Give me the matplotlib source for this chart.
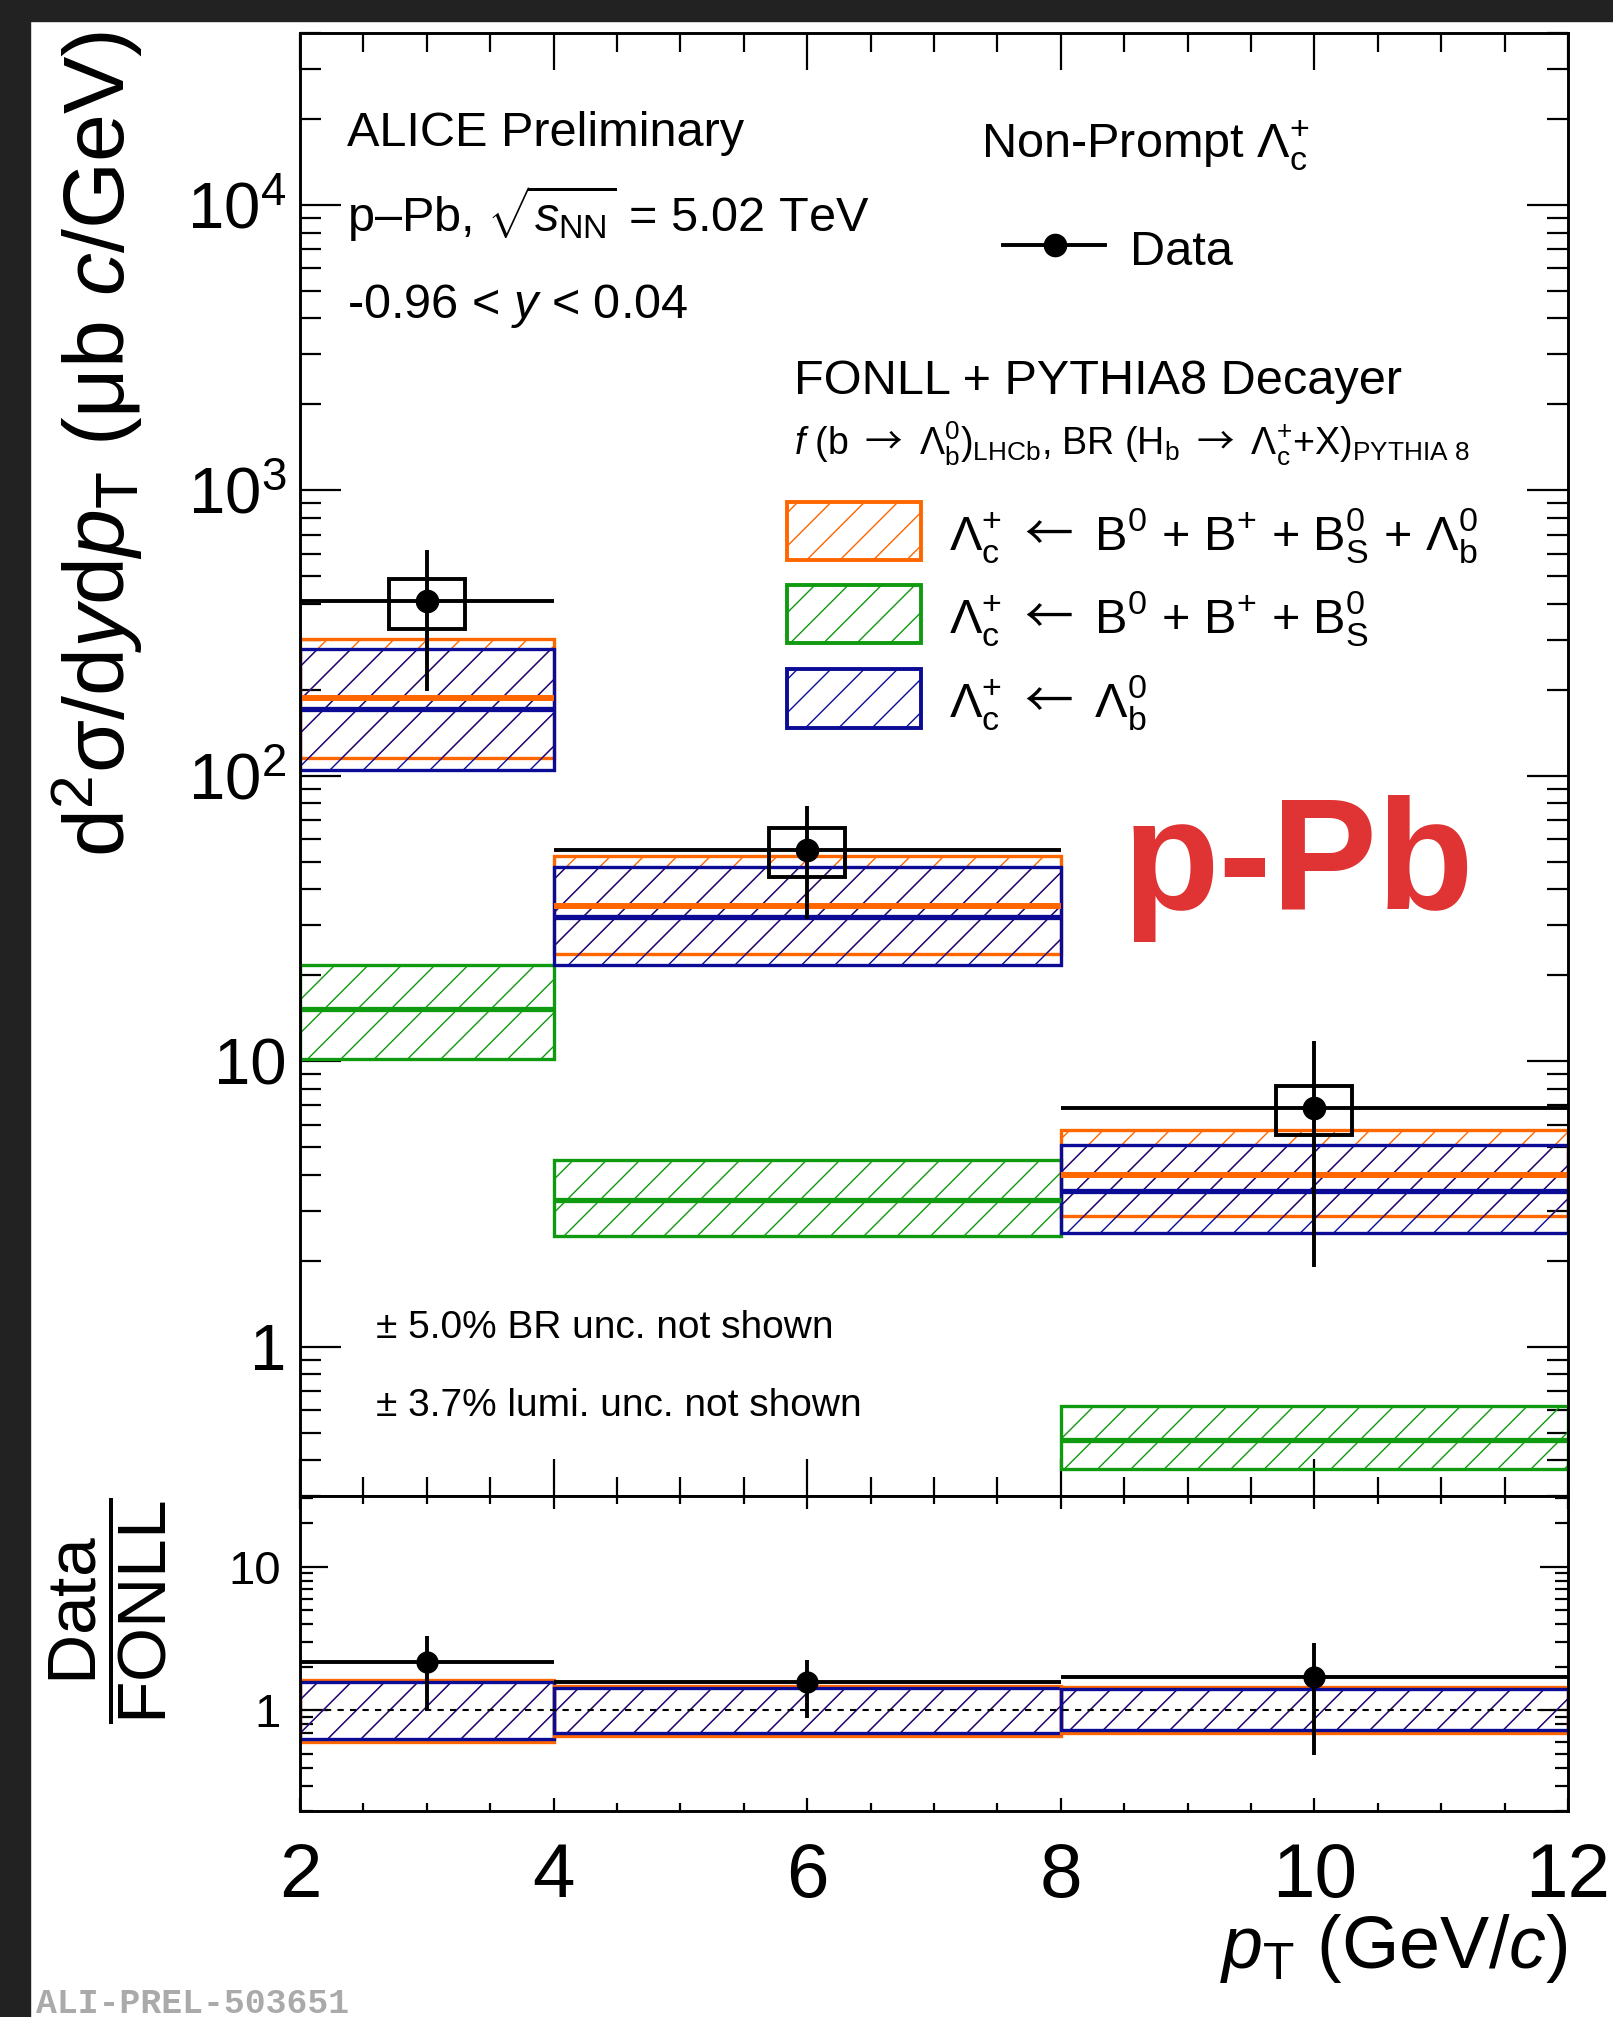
# -*- coding: utf-8 -*-

import numpy as np
import matplotlib.pyplot as plt
from matplotlib.patches import Rectangle
from matplotlib.lines import Line2D
from matplotlib.ticker import MultipleLocator, LogLocator, NullFormatter

# ---- data ----
pt_edges = [2, 4, 8, 12]
pt_centres = [3, 6, 10]

# measured cross section (ub c/GeV)
sigma_data = [408, 55.1, 6.85]
sigma_stat = [210, 23.5, 4.95]
sigma_syst = [81, 10.8, 1.33]

# FONLL + PYTHIA8, all b hadrons
fonll_all_c = [187, 35.1, 3.99]
fonll_all_lo = [115, 23.8, 2.86]
fonll_all_hi = [301, 52.5, 5.76]
# B0 + B+ + Bs0
fonll_b_c = [15.3, 3.26, 0.471]
fonll_b_lo = [10.2, 2.44, 0.372]
fonll_b_hi = [21.8, 4.5, 0.62]
# Lambda_b0
fonll_lb_c = [172, 31.9, 3.52]
fonll_lb_lo = [105, 21.8, 2.50]
fonll_lb_hi = [278, 48.1, 5.10]

# Data / FONLL
ratio_data = [2.17, 1.57, 1.71]
ratio_stat = [1.14, 0.68, 1.22]
ratio_all_lo = [0.606, 0.66, 0.70]
ratio_all_hi = [1.64, 1.48, 1.46]
ratio_lb_lo = [0.635, 0.70, 0.73]
ratio_lb_hi = [1.59, 1.44, 1.41]

C_ALL = "#ff6600"
C_B = "#109a10"
C_LB = "#0b0b96"
C_RED = "#e03333"

W, H = 1613, 2017

LARR = r"$\mathsf{\leftarrow}$"
RARR = r"$\mathsf{\rightarrow}$"


def fx(px):
    return px / W


def fy(py):
    return 1 - py / H


def draw_band(ax, x0, x1, lo, hi, colour, centre=None, lw_c=3.8):
    ax.add_patch(Rectangle((x0, lo), x1 - x0, hi - lo, fill=False,
                           edgecolor=colour, lw=2.4, hatch="/", zorder=2))
    if centre is not None:
        ax.plot([x0, x1], [centre, centre], color=colour, lw=lw_c,
                solid_capstyle="butt", zorder=2.5)


def style_axis(ax, xmaj, xmin, ymaj, ymin):
    ax.tick_params(which="both", direction="in", top=True, right=True,
                   width=1.6)
    ax.tick_params(axis="x", which="major", length=xmaj)
    ax.tick_params(axis="x", which="minor", length=xmin)
    ax.tick_params(axis="y", which="major", length=ymaj)
    ax.tick_params(axis="y", which="minor", length=ymin)
    for s in ax.spines.values():
        s.set_linewidth(2.1)


def main():
    plt.rcParams["font.family"] = ["Liberation Sans", "DejaVu Sans"]
    plt.rcParams["mathtext.fontset"] = "custom"
    plt.rcParams["mathtext.rm"] = "Liberation Sans"
    plt.rcParams["mathtext.it"] = "Liberation Sans:italic"
    plt.rcParams["mathtext.bf"] = "Liberation Sans:bold"
    # long arrows as in the ROOT Symbol font
    plt.rcParams["mathtext.sf"] = "Noto Sans CJK JP"
    plt.rcParams["hatch.linewidth"] = 1.0

    fig = plt.figure(figsize=(W / 100, H / 100), dpi=100)

    # dark frame of the screenshot
    fig.add_artist(Rectangle((0, fy(21)), 1, 21 / H, transform=fig.transFigure,
                             color="#222222", zorder=0))
    fig.add_artist(Rectangle((0, 0), 30 / W, 1, transform=fig.transFigure,
                             color="#222222", zorder=0))

    left, right = 300, 1568
    ax = fig.add_axes([fx(left), fy(1496), fx(right) - fx(left), fy(33) - fy(1496)])
    rax = fig.add_axes([fx(left), fy(1811), fx(right) - fx(left), fy(1496) - fy(1811)])

    edges = np.array(pt_edges, dtype=float)
    xerr = np.diff(edges) / 2

    # ---- main panel ----
    ax.set_yscale("log")
    ax.set_xlim(2, 12)
    ax.set_ylim(0.3, 4e4)

    for i in range(3):
        x0, x1 = edges[i], edges[i + 1]
        draw_band(ax, x0, x1, fonll_all_lo[i], fonll_all_hi[i], C_ALL, fonll_all_c[i], 4.3)
        draw_band(ax, x0, x1, fonll_lb_lo[i], fonll_lb_hi[i], C_LB, fonll_lb_c[i])
        draw_band(ax, x0, x1, fonll_b_lo[i], fonll_b_hi[i], C_B, fonll_b_c[i])
        ax.add_patch(Rectangle((pt_centres[i] - 0.3, sigma_data[i] - sigma_syst[i]),
                               0.6, 2 * sigma_syst[i], fill=False, edgecolor="k",
                               lw=2.8, zorder=4))

    ax.errorbar(pt_centres, sigma_data, yerr=sigma_stat, xerr=xerr, fmt="o",
                color="k", ms=16, elinewidth=2.8, capsize=0, zorder=5)

    ax.set_xticks([2, 4, 6, 8, 10, 12])
    ax.xaxis.set_minor_locator(MultipleLocator(0.5))
    ax.tick_params(labelbottom=False)
    ax.set_yticks([1, 10, 100, 1000, 10000])
    ax.set_yticklabels(["1", "10", r"$10^{2}$", r"$10^{3}$", r"$10^{4}$"], fontsize=47)
    ax.yaxis.set_minor_locator(LogLocator(base=10, subs=np.arange(2, 10)))
    ax.yaxis.set_minor_formatter(NullFormatter())
    style_axis(ax, 26.6, 13.7, 29.5, 15)
    ax.tick_params(axis="y", pad=10)

    # ---- ratio panel ----
    rax.set_yscale("log")
    rax.set_xlim(2, 12)
    rax.set_ylim(0.2, 31)
    for i in range(3):
        x0, x1 = edges[i], edges[i + 1]
        draw_band(rax, x0, x1, ratio_all_lo[i], ratio_all_hi[i], C_ALL)
        draw_band(rax, x0, x1, ratio_lb_lo[i], ratio_lb_hi[i], C_LB)
    rax.axhline(1, color="k", ls=(0, (3, 3)), lw=1.5, zorder=3)
    rax.errorbar(pt_centres, ratio_data, yerr=ratio_stat, xerr=xerr, fmt="o",
                 color="k", ms=15, elinewidth=2.8, capsize=0, zorder=5)

    rax.set_xticks([2, 4, 6, 8, 10, 12])
    rax.set_xticklabels(["2", "4", "6", "8", "10", "12"], fontsize=55)
    rax.xaxis.set_minor_locator(MultipleLocator(0.5))
    rax.set_yticks([1, 10])
    rax.set_yticklabels(["1", "10"], fontsize=34)
    rax.yaxis.set_minor_locator(LogLocator(base=10, subs=np.arange(2, 10)))
    rax.yaxis.set_minor_formatter(NullFormatter())
    style_axis(rax, 9.4, 5.8, 20, 9.4)
    rax.tick_params(axis="x", pad=22)
    rax.tick_params(axis="y", pad=14)

    # ---- axis titles ----
    fig.text(fx(97), fy(444), r"d$^{2}$σ/d$y$d$p_{\mathrm{T}}$ (μb $c$/GeV)",
             rotation=90, ha="center", va="center", fontsize=62)
    fig.text(fx(108), fy(1611), r"$\dfrac{\mathrm{Data}}{\mathrm{FONLL}}$",
             rotation=90, ha="center", va="center", fontsize=50)
    fig.text(fx(1568), fy(1968), r"$p_{\mathrm{T}}$ (GeV/$c$)",
             ha="right", va="baseline", fontsize=53)

    # ---- texts ----
    fs = 35
    fig.text(fx(347), fy(146), "ALICE Preliminary", fontsize=fs, va="baseline")
    fig.text(fx(347), fy(232), r"p–Pb, $\sqrt{s_{\mathrm{NN}}}$ = 5.02 TeV",
             fontsize=fs, va="baseline")
    fig.text(fx(347), fy(318), r"-0.96 < $y$ < 0.04", fontsize=fs, va="baseline")
    fig.text(fx(981), fy(158), r"Non-Prompt $\Lambda_{\mathrm{c}}^{+}$",
             fontsize=fs, va="baseline")

    fig.add_artist(Line2D([fx(1003), fx(1105)], [fy(245), fy(245)],
                          color="k", lw=2.8))
    fig.add_artist(Line2D([fx(1055)], [fy(245)], marker="o", ms=16, color="k"))
    fig.text(fx(1130), fy(265), "Data", fontsize=fs, va="baseline")

    fig.text(fx(794), fy(394), "FONLL + PYTHIA8 Decayer", fontsize=fs, va="baseline")
    fig.text(fx(794), fy(455),
             r"$f$ (b " + RARR + r" $\Lambda_{\mathrm{b}}^{0}$)$_{\mathrm{LHCb}}$, "
             r"BR (H$_{\mathrm{b}}$ " + RARR + r" $\Lambda_{\mathrm{c}}^{+}$+X)"
             r"$_{\mathrm{PYTHIA\ 8}}$",
             fontsize=27, va="baseline")

    entries = [
        (C_ALL, 502, 560, 550,
         r"$\Lambda_{\mathrm{c}}^{+}$ " + LARR + r" B$^{0}$ + B$^{+}$ + "
         r"$\mathrm{B}_{\mathrm{S}}^{0}$ + $\Lambda_{\mathrm{b}}^{0}$"),
        (C_B, 585, 643, 633,
         r"$\Lambda_{\mathrm{c}}^{+}$ " + LARR + r" B$^{0}$ + B$^{+}$ + "
         r"$\mathrm{B}_{\mathrm{S}}^{0}$"),
        (C_LB, 669, 728, 717,
         r"$\Lambda_{\mathrm{c}}^{+}$ " + LARR + r" $\Lambda_{\mathrm{b}}^{0}$"),
    ]
    for colour, y0, y1, yb, label in entries:
        fig.add_artist(Rectangle((fx(787), fy(y1)), fx(921) - fx(787), fy(y0) - fy(y1),
                                 transform=fig.transFigure, fill=False,
                                 edgecolor=colour, lw=2.8, hatch="/"))
        fig.text(fx(949), fy(yb), label, fontsize=fs, va="baseline")

    fig.text(fx(1123), fy(909), "p-Pb", fontsize=114, fontweight="bold",
             color=C_RED, va="baseline")

    fig.text(fx(376), fy(1338), "± 5.0% BR unc. not shown", fontsize=28, va="baseline")
    fig.text(fx(376), fy(1416), "± 3.7% lumi. unc. not shown", fontsize=28, va="baseline")

    fig.text(fx(36), fy(2003), "ALI-PREL-503651", fontsize=25, va="center",
             family=["Liberation Mono", "DejaVu Sans Mono"], fontweight="bold",
             color="#aaaaaa")

    fig.savefig("out.png", dpi=100)


if __name__ == "__main__":
    main()
